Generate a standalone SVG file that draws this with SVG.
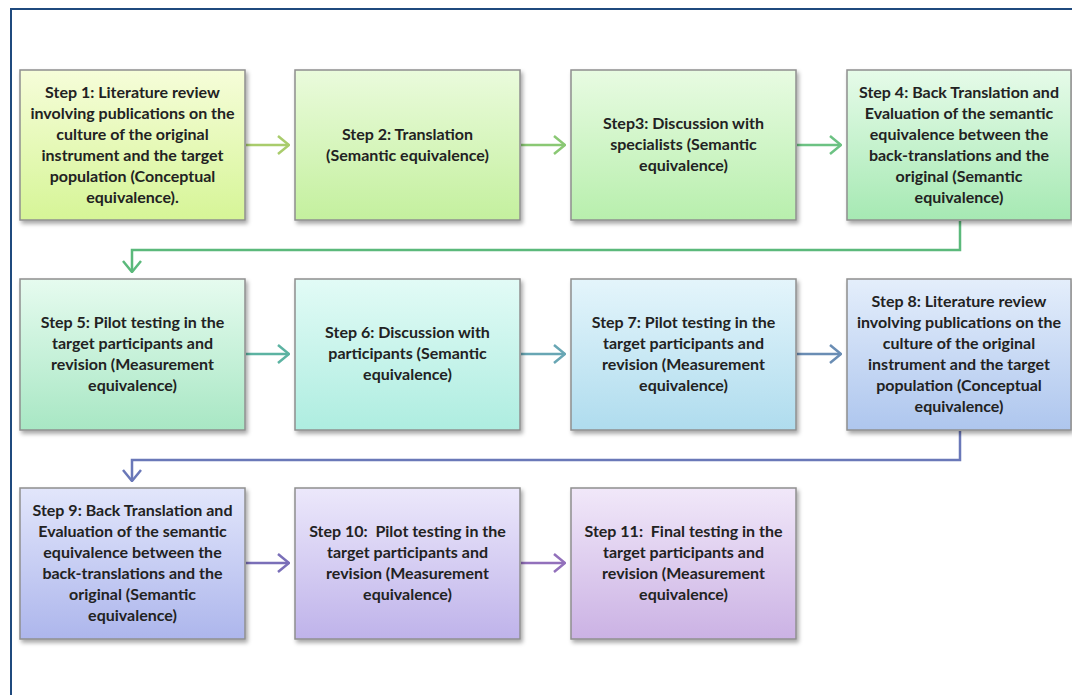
<svg xmlns="http://www.w3.org/2000/svg" width="1072" height="695" viewBox="0 0 1072 695">
  <style>
    .box { stroke: #8f8f8f; stroke-width: 1.5; filter: url(#shadow); }
    .lbl { font-family: Lato, "Open Sans", "Liberation Sans", sans-serif; font-weight: 700; font-size: 16px; fill: #222222; text-anchor: middle; white-space: pre; }
    .con { fill: none; stroke-width: 2.5; }
    .frame { fill: none; stroke: #1f4a7e; stroke-width: 2; }
  </style>
  <defs>
    <filter id="shadow" x="-5%" y="-5%" width="115%" height="120%">
      <feDropShadow dx="2" dy="3" stdDeviation="2" flood-color="#000" flood-opacity="0.35"/>
    </filter>
    <linearGradient id="g1" x1="0" y1="0" x2="0" y2="1"><stop offset="0" stop-color="#f6fdd9"/><stop offset="1" stop-color="#d6f597"/></linearGradient>
    <linearGradient id="g2" x1="0" y1="0" x2="0" y2="1"><stop offset="0" stop-color="#eafbdc"/><stop offset="1" stop-color="#c4f09e"/></linearGradient>
    <linearGradient id="g3" x1="0" y1="0" x2="0" y2="1"><stop offset="0" stop-color="#e8fbe2"/><stop offset="1" stop-color="#b8efad"/></linearGradient>
    <linearGradient id="g4" x1="0" y1="0" x2="0" y2="1"><stop offset="0" stop-color="#e6fbe9"/><stop offset="1" stop-color="#a6e9b3"/></linearGradient>
    <linearGradient id="g5" x1="0" y1="0" x2="0" y2="1"><stop offset="0" stop-color="#e6fbef"/><stop offset="1" stop-color="#a8e7c4"/></linearGradient>
    <linearGradient id="g6" x1="0" y1="0" x2="0" y2="1"><stop offset="0" stop-color="#e2fbf6"/><stop offset="1" stop-color="#aeede0"/></linearGradient>
    <linearGradient id="g7" x1="0" y1="0" x2="0" y2="1"><stop offset="0" stop-color="#e4f5fb"/><stop offset="1" stop-color="#afdcee"/></linearGradient>
    <linearGradient id="g8" x1="0" y1="0" x2="0" y2="1"><stop offset="0" stop-color="#e4eefb"/><stop offset="1" stop-color="#aec6ee"/></linearGradient>
    <linearGradient id="g9" x1="0" y1="0" x2="0" y2="1"><stop offset="0" stop-color="#e2e6fb"/><stop offset="1" stop-color="#adb6ec"/></linearGradient>
    <linearGradient id="g10" x1="0" y1="0" x2="0" y2="1"><stop offset="0" stop-color="#ece8fb"/><stop offset="1" stop-color="#bfb3ea"/></linearGradient>
    <linearGradient id="g11" x1="0" y1="0" x2="0" y2="1"><stop offset="0" stop-color="#f1e8f9"/><stop offset="1" stop-color="#cbb2e4"/></linearGradient>
    <marker id="m1" viewBox="0 0 13 20" refX="12" refY="10" markerWidth="13" markerHeight="20" markerUnits="userSpaceOnUse" orient="auto"><path d="M1,1 L12,10 L1,19" fill="none" stroke="#a9cc6c" stroke-width="2.5"/></marker>
    <marker id="m2" viewBox="0 0 13 20" refX="12" refY="10" markerWidth="13" markerHeight="20" markerUnits="userSpaceOnUse" orient="auto"><path d="M1,1 L12,10 L1,19" fill="none" stroke="#8ac874" stroke-width="2.5"/></marker>
    <marker id="m3" viewBox="0 0 13 20" refX="12" refY="10" markerWidth="13" markerHeight="20" markerUnits="userSpaceOnUse" orient="auto"><path d="M1,1 L12,10 L1,19" fill="none" stroke="#6cc283" stroke-width="2.5"/></marker>
    <marker id="m4" viewBox="0 0 13 20" refX="12" refY="10" markerWidth="13" markerHeight="20" markerUnits="userSpaceOnUse" orient="auto"><path d="M1,1 L12,10 L1,19" fill="none" stroke="#5bb97b" stroke-width="2.5"/></marker>
    <marker id="m5" viewBox="0 0 13 20" refX="12" refY="10" markerWidth="13" markerHeight="20" markerUnits="userSpaceOnUse" orient="auto"><path d="M1,1 L12,10 L1,19" fill="none" stroke="#5cb3a2" stroke-width="2.5"/></marker>
    <marker id="m6" viewBox="0 0 13 20" refX="12" refY="10" markerWidth="13" markerHeight="20" markerUnits="userSpaceOnUse" orient="auto"><path d="M1,1 L12,10 L1,19" fill="none" stroke="#68a6b4" stroke-width="2.5"/></marker>
    <marker id="m7" viewBox="0 0 13 20" refX="12" refY="10" markerWidth="13" markerHeight="20" markerUnits="userSpaceOnUse" orient="auto"><path d="M1,1 L12,10 L1,19" fill="none" stroke="#6a8db4" stroke-width="2.5"/></marker>
    <marker id="m8" viewBox="0 0 13 20" refX="12" refY="10" markerWidth="13" markerHeight="20" markerUnits="userSpaceOnUse" orient="auto"><path d="M1,1 L12,10 L1,19" fill="none" stroke="#6a78b8" stroke-width="2.5"/></marker>
    <marker id="m9" viewBox="0 0 13 20" refX="12" refY="10" markerWidth="13" markerHeight="20" markerUnits="userSpaceOnUse" orient="auto"><path d="M1,1 L12,10 L1,19" fill="none" stroke="#7a6fb8" stroke-width="2.5"/></marker>
    <marker id="m10" viewBox="0 0 13 20" refX="12" refY="10" markerWidth="13" markerHeight="20" markerUnits="userSpaceOnUse" orient="auto"><path d="M1,1 L12,10 L1,19" fill="none" stroke="#9270bb" stroke-width="2.5"/></marker>
  </defs>

  <rect width="1072" height="695" fill="#ffffff"/>
  <!-- page frame: top and left rules -->
  <path class="frame" d="M11,695 V9 H1072"/>

  <!-- connectors -->
  <g id="connectors">
    <path class="con" stroke="#a9cc6c" d="M246,145 H289" marker-end="url(#m1)"/>
    <path class="con" stroke="#8ac874" d="M521,145 H565" marker-end="url(#m2)"/>
    <path class="con" stroke="#6cc283" d="M797,145 H841" marker-end="url(#m3)"/>
    <path class="con" stroke="#5bb97b" d="M960,221 V250 H132 V272" marker-end="url(#m4)"/>
    <path class="con" stroke="#5cb3a2" d="M246,354 H289" marker-end="url(#m5)"/>
    <path class="con" stroke="#68a6b4" d="M521,354 H565" marker-end="url(#m6)"/>
    <path class="con" stroke="#6a8db4" d="M797,354 H841" marker-end="url(#m7)"/>
    <path class="con" stroke="#6a78b8" d="M960,431 V460 H132 V481" marker-end="url(#m8)"/>
    <path class="con" stroke="#7a6fb8" d="M246,563 H289" marker-end="url(#m9)"/>
    <path class="con" stroke="#9270bb" d="M521,563 H565" marker-end="url(#m10)"/>
  </g>

  <g id="step1">
    <rect class="box" x="20" y="70" width="225" height="150" fill="url(#g1)"/>
    <text class="lbl" x="132.5" y="98">Step 1: Literature review</text>
    <text class="lbl" x="132.5" y="119">involving publications on the</text>
    <text class="lbl" x="132.5" y="140">culture of the original</text>
    <text class="lbl" x="132.5" y="161">instrument and the target</text>
    <text class="lbl" x="132.5" y="182">population (Conceptual</text>
    <text class="lbl" x="132.5" y="203">equivalence).</text>
  </g>
  <g id="step2">
    <rect class="box" x="295" y="70" width="225" height="150" fill="url(#g2)"/>
    <text class="lbl" x="407.5" y="140">Step 2: Translation</text>
    <text class="lbl" x="407.5" y="161">(Semantic equivalence)</text>
  </g>
  <g id="step3">
    <rect class="box" x="571" y="70" width="225" height="150" fill="url(#g3)"/>
    <text class="lbl" x="683.5" y="129">Step3: Discussion with</text>
    <text class="lbl" x="683.5" y="150">specialists (Semantic</text>
    <text class="lbl" x="683.5" y="171">equivalence)</text>
  </g>
  <g id="step4">
    <rect class="box" x="847" y="70" width="224" height="150" fill="url(#g4)"/>
    <text class="lbl" x="959" y="98">Step 4: Back Translation and</text>
    <text class="lbl" x="959" y="119">Evaluation of the semantic</text>
    <text class="lbl" x="959" y="140">equivalence between the</text>
    <text class="lbl" x="959" y="161">back-translations and the</text>
    <text class="lbl" x="959" y="182">original (Semantic</text>
    <text class="lbl" x="959" y="203">equivalence)</text>
  </g>

  <g id="step5">
    <rect class="box" x="20" y="279" width="225" height="151" fill="url(#g5)"/>
    <text class="lbl" x="132.5" y="328">Step 5: Pilot testing in the</text>
    <text class="lbl" x="132.5" y="349">target participants and</text>
    <text class="lbl" x="132.5" y="370">revision (Measurement</text>
    <text class="lbl" x="132.5" y="391">equivalence)</text>
  </g>
  <g id="step6">
    <rect class="box" x="295" y="279" width="225" height="151" fill="url(#g6)"/>
    <text class="lbl" x="407.5" y="338">Step 6: Discussion with</text>
    <text class="lbl" x="407.5" y="359">participants (Semantic</text>
    <text class="lbl" x="407.5" y="380">equivalence)</text>
  </g>
  <g id="step7">
    <rect class="box" x="571" y="279" width="225" height="151" fill="url(#g7)"/>
    <text class="lbl" x="683.5" y="328">Step 7: Pilot testing in the</text>
    <text class="lbl" x="683.5" y="349">target participants and</text>
    <text class="lbl" x="683.5" y="370">revision (Measurement</text>
    <text class="lbl" x="683.5" y="391">equivalence)</text>
  </g>
  <g id="step8">
    <rect class="box" x="847" y="279" width="224" height="151" fill="url(#g8)"/>
    <text class="lbl" x="959" y="307">Step 8: Literature review</text>
    <text class="lbl" x="959" y="328">involving publications on the</text>
    <text class="lbl" x="959" y="349">culture of the original</text>
    <text class="lbl" x="959" y="370">instrument and the target</text>
    <text class="lbl" x="959" y="391">population (Conceptual</text>
    <text class="lbl" x="959" y="412">equivalence)</text>
  </g>

  <g id="step9">
    <rect class="box" x="20" y="488" width="225" height="151" fill="url(#g9)"/>
    <text class="lbl" x="132.5" y="516">Step 9: Back Translation and</text>
    <text class="lbl" x="132.5" y="537">Evaluation of the semantic</text>
    <text class="lbl" x="132.5" y="558">equivalence between the</text>
    <text class="lbl" x="132.5" y="579">back-translations and the</text>
    <text class="lbl" x="132.5" y="600">original (Semantic</text>
    <text class="lbl" x="132.5" y="621">equivalence)</text>
  </g>
  <g id="step10">
    <rect class="box" x="295" y="488" width="225" height="151" fill="url(#g10)"/>
    <text class="lbl" x="407.5" y="537">Step 10:  Pilot testing in the</text>
    <text class="lbl" x="407.5" y="558">target participants and</text>
    <text class="lbl" x="407.5" y="579">revision (Measurement</text>
    <text class="lbl" x="407.5" y="600">equivalence)</text>
  </g>
  <g id="step11">
    <rect class="box" x="571" y="488" width="225" height="151" fill="url(#g11)"/>
    <text class="lbl" x="683.5" y="537">Step 11:  Final testing in the</text>
    <text class="lbl" x="683.5" y="558">target participants and</text>
    <text class="lbl" x="683.5" y="579">revision (Measurement</text>
    <text class="lbl" x="683.5" y="600">equivalence)</text>
  </g>
</svg>
